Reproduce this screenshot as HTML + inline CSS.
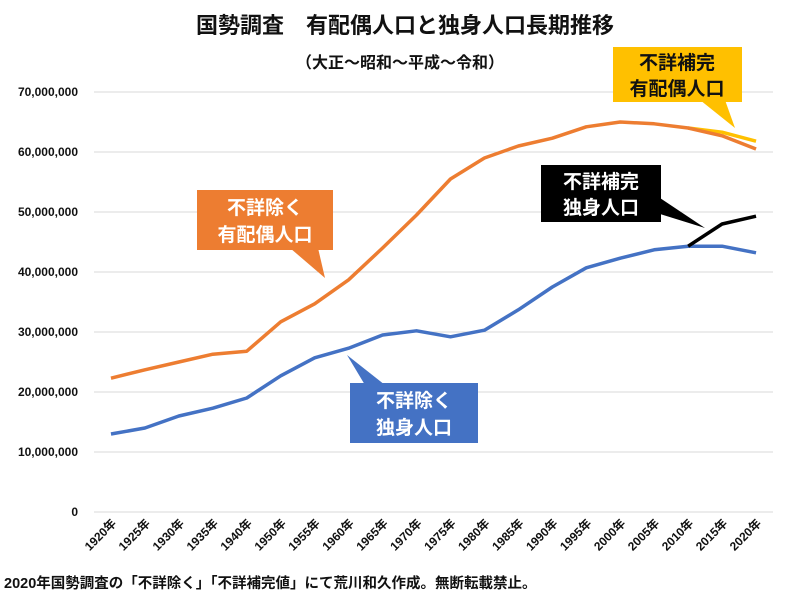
<!DOCTYPE html>
<html><head><meta charset="utf-8">
<style>
body{margin:0;background:#fff;}
svg text{font-family:"Liberation Sans","Noto Sans CJK JP",sans-serif;}
</style></head>
<body>
<svg id="chart" width="800" height="600" xmlns="http://www.w3.org/2000/svg">
<rect width="800" height="600" fill="#fff"/>
<text x="405" y="33" text-anchor="middle" font-size="22" font-weight="bold" fill="#111">国勢調査　有配偶人口と独身人口長期推移</text>
<text x="400" y="68" text-anchor="middle" font-size="16" font-weight="bold" fill="#111">（大正～昭和～平成～令和）</text>
<g id="grid"></g><g id="yticks"></g><g id="xticks"></g><g id="series"></g>
<g>
<polygon points="290,248 325,278 318,248" fill="#ED7D31"/>
<rect x="197" y="190" width="136" height="60" fill="#ED7D31"/>
<text x="265" y="214" text-anchor="middle" font-size="19" font-weight="bold" fill="#fff">不詳除く</text>
<text x="265" y="241" text-anchor="middle" font-size="19" font-weight="bold" fill="#fff">有配偶人口</text>
</g>
<g>
<polygon points="365,385 347,355 385,385" fill="#4472C4"/>
<rect x="350" y="383" width="128" height="60" fill="#4472C4"/>
<text x="414" y="407" text-anchor="middle" font-size="19" font-weight="bold" fill="#fff">不詳除く</text>
<text x="414" y="434" text-anchor="middle" font-size="19" font-weight="bold" fill="#fff">独身人口</text>
</g>
<g>
<polygon points="660,198 705,228 660,214" fill="#000"/>
<rect x="541" y="165" width="120" height="57" fill="#000"/>
<text x="601" y="188" text-anchor="middle" font-size="19" font-weight="bold" fill="#fff">不詳補完</text>
<text x="601" y="214" text-anchor="middle" font-size="19" font-weight="bold" fill="#fff">独身人口</text>
</g>
<g>
<polygon points="700,100 735,128 725,100" fill="#FFC000"/>
<rect x="613" y="47" width="129" height="55" fill="#FFC000"/>
<text x="677" y="69" text-anchor="middle" font-size="19" font-weight="bold" fill="#111">不詳補完</text>
<text x="677" y="95" text-anchor="middle" font-size="19" font-weight="bold" fill="#111">有配偶人口</text>
</g>
<text x="4" y="588" font-size="14.5" font-weight="bold" fill="#111">2020年国勢調査の「不詳除く」「不詳補完値」にて荒川和久作成。無断転載禁止。</text>
</svg>
<script>
const categories=["1920年","1925年","1930年","1935年","1940年","1950年","1955年","1960年","1965年","1970年","1975年","1980年","1985年","1990年","1995年","2000年","2005年","2010年","2015年","2020年"];
const marriedExcl=[22.3,23.7,25.0,26.3,26.8,31.7,34.7,38.7,44.0,49.5,55.5,59.0,61.0,62.3,64.2,65.0,64.7,64.0,62.7,60.5];
const singleExcl=[13.0,14.0,16.0,17.3,19.0,22.7,25.7,27.3,29.5,30.2,29.2,30.3,33.7,37.5,40.7,42.3,43.7,44.3,44.3,43.2];
const marriedImp=[null,null,null,null,null,null,null,null,null,null,null,null,null,null,null,null,null,64.0,63.3,61.8];
const singleImp=[null,null,null,null,null,null,null,null,null,null,null,null,null,null,null,null,null,44.3,48.0,49.3];
const yTicks=[0,10,20,30,40,50,60,70];
const yTickLabels=["0","10,000,000","20,000,000","30,000,000","40,000,000","50,000,000","60,000,000","70,000,000"];
const NS="http://www.w3.org/2000/svg";
const x0=94,x1=773,yBase=512,pxPerM=6;
const band=(x1-x0)/categories.length;
const X=i=>x0+band*(i+0.5);
const Y=v=>yBase-v*pxPerM;
function mk(tag,attrs,parent){const e=document.createElementNS(NS,tag);for(const k in attrs)e.setAttribute(k,attrs[k]);parent.appendChild(e);return e;}
const grid=document.getElementById('grid'),yt=document.getElementById('yticks'),xt=document.getElementById('xticks'),ser=document.getElementById('series');
yTicks.forEach((v,i)=>{
  const l=mk('line',{x1:x0,x2:x1,y1:Y(v),y2:Y(v),stroke:'#d9d9d9','stroke-width':1},grid);
  
  
  const t=mk('text',{x:78,y:Y(v)+4,'text-anchor':'end','font-size':12,'font-weight':'bold',fill:'#111'},yt);
  
  
  t.textContent=yTickLabels[i];
});
categories.forEach((c,i)=>{
  const x=X(i)+6,y=524;
  const t=mk('text',{x:x,y:y,'text-anchor':'end','font-size':12,'font-weight':'bold',fill:'#111',transform:`rotate(-45 ${x} ${y})`},xt);
  
  
  t.textContent=c;
});
function line(data,color,name){
  const pts=[];data.forEach((v,i)=>{if(v!==null)pts.push(X(i)+','+Y(v));});
  const p=mk('polyline',{points:pts.join(' '),fill:'none',stroke:color,'stroke-width':3.5,'stroke-linejoin':'round'},ser);
  
  
}
line(marriedImp,'#FFC000','line-married-imputed');
line(marriedExcl,'#ED7D31','line-married-excluded');
line(singleExcl,'#4472C4','line-single-excluded');
line(singleImp,'#000000','line-single-imputed');
</script>
</body></html>
